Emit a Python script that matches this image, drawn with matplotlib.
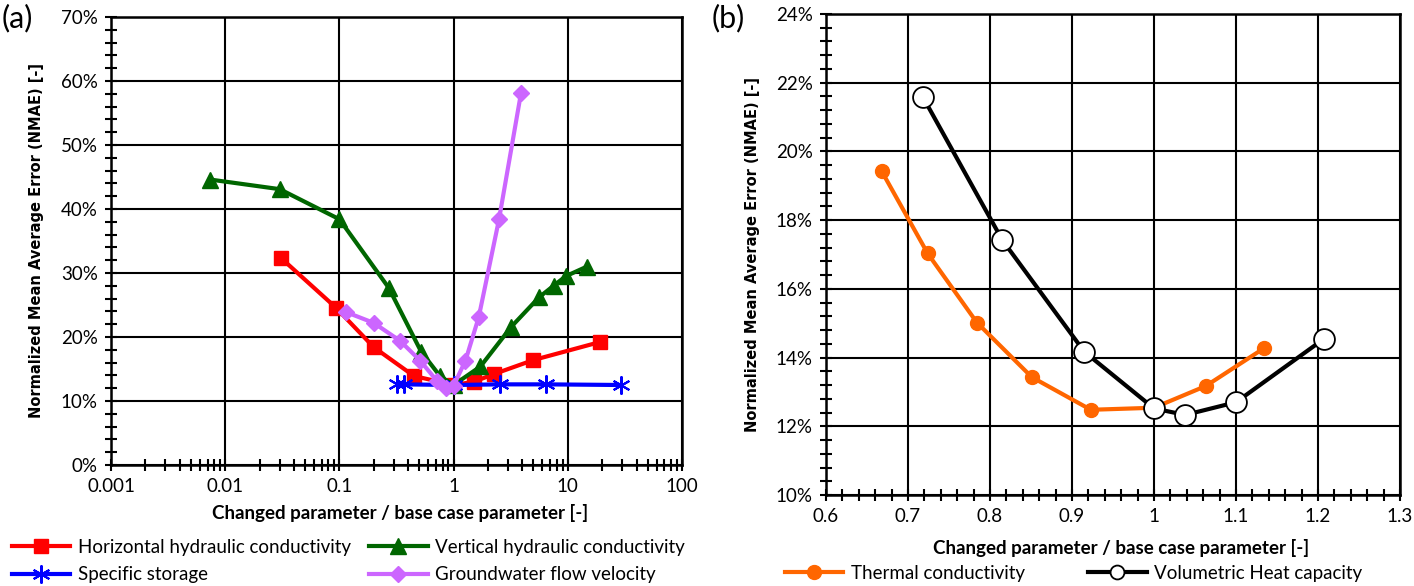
import matplotlib.pyplot as plt
from matplotlib.ticker import FuncFormatter, MultipleLocator, LogLocator, NullFormatter
from matplotlib.lines import Line2D

# panel (a): changed parameter / base case parameter vs NMAE [%]
horiz_x = [0.031, 0.093, 0.2, 0.45, 1, 1.5, 2.25, 5, 19]
horiz_y = [32.3, 24.6, 18.4, 13.9, 12.5, 13.0, 14.2, 16.4, 19.2]
vert_x = [0.0074, 0.030, 0.1, 0.27, 0.52, 0.76, 1, 1.72, 3.2, 5.6, 7.5, 9.6, 14.7]
vert_y = [44.6, 43.1, 38.4, 27.7, 17.7, 13.9, 12.5, 15.4, 21.6, 26.2, 28.0, 29.5, 31.0]
stor_x = [0.32, 0.37, 1, 2.55, 6.5, 29]
stor_y = [12.6, 12.6, 12.5, 12.6, 12.6, 12.5]
gw_x = [0.114, 0.2, 0.34, 0.51, 0.71, 0.85, 1, 1.27, 1.66, 2.5, 3.9]
gw_y = [23.9, 22.2, 19.4, 16.3, 13.2, 12.1, 12.4, 16.3, 23.1, 38.4, 58.2]

# panel (b)
therm_x = [0.668, 0.724, 0.784, 0.851, 0.923, 1.0, 1.063, 1.134]
therm_y = [19.42, 17.03, 15.02, 13.43, 12.48, 12.54, 13.17, 14.27]
heat_x = [0.718, 0.815, 0.915, 1.0, 1.038, 1.1, 1.207]
heat_y = [21.59, 17.42, 14.17, 12.52, 12.33, 12.70, 14.54]

W, H = 1414, 586
tick_font = 'Lato'
fig = plt.figure(figsize=(W / 100, H / 100), dpi=100)


def box(l, r, t, b):
    return [l / W, 1 - b / H, (r - l) / W, (b - t) / H]


def style(ax):
    ax.grid(True, which='major', color='black', linewidth=1.5)
    ax.set_axisbelow(True)
    for s in ax.spines.values():
        s.set_linewidth(1.8)
    ax.tick_params(which='major', direction='inout', length=9, width=1.5,
                   labelsize=13.5, pad=5)
    ax.tick_params(which='minor', direction='inout', length=8, width=1.5)
    for lab in ax.get_xticklabels() + ax.get_yticklabels():
        lab.set_fontfamily(tick_font)
    ax.yaxis.set_major_formatter(FuncFormatter(lambda v, p: '%d%%' % round(v)))
    ax.xaxis.set_major_formatter(FuncFormatter(lambda v, p: '%g' % v))


# ---- panel a
ax1 = fig.add_axes(box(111, 682, 17, 465))
ax1.set_xscale('log')
ax1.plot(horiz_x, horiz_y, color='#FF0000', lw=3, marker='s', ms=10,
         label='Horizontal hydraulic conductivity')
ax1.plot(vert_x, vert_y, color='#006600', lw=3, marker='^', ms=11,
         label='Vertical hydraulic conductivity')
ax1.plot(stor_x, stor_y, color='#0000FF', lw=3, marker=(6, 2, 0), ms=13, mew=1.5,
         label='Specific storage')
ax1.plot(gw_x, gw_y, color='#CC66FF', lw=3, marker='D', ms=8,
         label='Groundwater flow velocity')
ax1.set_xlim(0.001, 100)
ax1.set_ylim(0, 70)
ax1.yaxis.set_major_locator(MultipleLocator(10))
ax1.yaxis.set_minor_locator(MultipleLocator(2))
ax1.xaxis.set_minor_locator(LogLocator(base=10, subs=range(2, 10)))
ax1.xaxis.set_minor_formatter(NullFormatter())
style(ax1)

# ---- panel b
ax2 = fig.add_axes(box(826, 1400, 14, 495))
ax2.plot(therm_x, therm_y, color='#FF6600', lw=3, marker='o', ms=10,
         label='Thermal conductivity')
ax2.plot(heat_x, heat_y, color='black', lw=3, marker='o', ms=15,
         mfc='white', mec='black', mew=1.3, label='Volumetric Heat capacity')
ax2.set_xlim(0.6, 1.3)
ax2.set_ylim(10, 24)
ax2.xaxis.set_major_locator(MultipleLocator(0.1))
ax2.xaxis.set_minor_locator(MultipleLocator(0.02))
ax2.yaxis.set_major_locator(MultipleLocator(2))
ax2.yaxis.set_minor_locator(MultipleLocator(0.4))
style(ax2)

# axis labels
ylab = 'Normalized Mean Average Error (NMAE) [-]'
xlab = 'Changed parameter / base case parameter [-]'
fig.text(37 / W, 1 - 241 / H, ylab, rotation=90, ha='center', va='center',
         family='DejaVu Sans', weight='bold', fontsize=10.5)
fig.text(752 / W, 1 - 255 / H, ylab, rotation=90, ha='center', va='center',
         family='DejaVu Sans', weight='bold', fontsize=10.5)
fig.text(400 / W, 1 - 513 / H, xlab, ha='center', va='center',
         family=tick_font, weight='bold', fontsize=13.5)
fig.text(1121 / W, 1 - 548 / H, xlab, ha='center', va='center',
         family=tick_font, weight='bold', fontsize=13.5)
fig.text(17 / W, 1 - 18 / H, '(a)', ha='center', va='center',
         family=tick_font, fontsize=22)
fig.text(728 / W, 1 - 18 / H, '(b)', ha='center', va='center',
         family=tick_font, fontsize=22)

# legends
h1, l1 = ax1.get_legend_handles_labels()
order = [0, 2, 1, 3]
fig.legend([h1[i] for i in order], [l1[i] for i in order], ncol=2,
           loc='center left', bbox_to_anchor=(12 / W, 1 - 561 / H),
           frameon=False, prop={'family': tick_font, 'size': 13.5},
           handlelength=3.1, handletextpad=0.4, columnspacing=1.0,
           labelspacing=0.55, borderpad=0, borderaxespad=0)
leg_b = [Line2D([], [], color='#FF6600', lw=3, marker='o', ms=10),
         Line2D([], [], color='black', lw=3, marker='o', ms=10,
                mfc='white', mec='black', mew=1.3)]
h2, l2 = ax2.get_legend_handles_labels()
fig.legend(leg_b, l2, ncol=2, loc='center left', bbox_to_anchor=(785 / W, 1 - 573 / H),
           frameon=False, prop={'family': tick_font, 'size': 13.5},
           handlelength=3.1, handletextpad=0.4, columnspacing=3.4,
           borderpad=0, borderaxespad=0)

fig.savefig('out.png', dpi=100)
